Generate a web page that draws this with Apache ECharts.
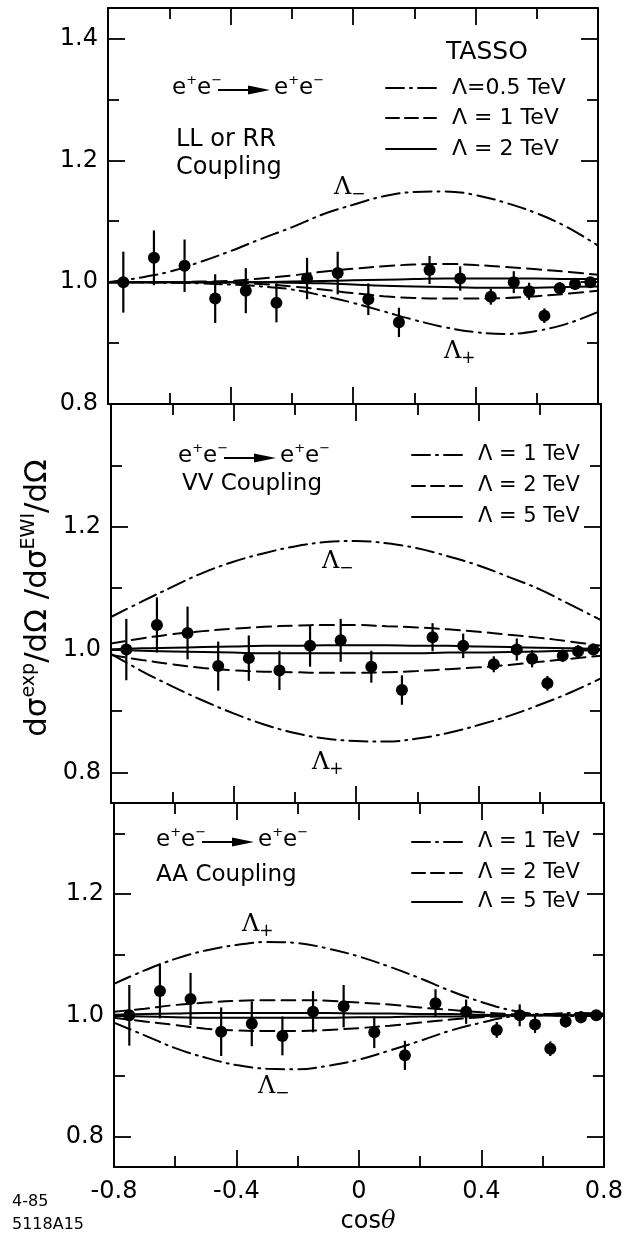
<!DOCTYPE html>
<html><head><meta charset="utf-8">
<script src="https://cdn.jsdelivr.net/npm/echarts@6/dist/echarts.min.js"></script>
<style>html,body{margin:0;padding:0;background:#fff}#c{width:626px;height:1236px}</style>
</head><body><div id="c"></div>
<script>
// ---------- data ----------
const cosTheta = [-0.75,-0.65,-0.55,-0.45,-0.35,-0.25,-0.15,-0.05,0.05,0.15,0.25,0.35,0.45,0.525,0.575,0.625,0.675,0.725,0.775];
const ratio    = [1.0,1.04,1.027,0.973,0.986,0.966,1.006,1.015,0.972,0.934,1.02,1.006,0.976,1.0,0.985,0.945,0.99,0.997,1.0];
const ratioErr = [0.05,0.045,0.043,0.04,0.037,0.032,0.034,0.035,0.026,0.024,0.023,0.02,0.013,0.018,0.014,0.012,0.01,0.01,0.008];

const curveX = [-0.8,-0.7,-0.6,-0.5,-0.4,-0.3,-0.2,-0.1,0,0.1,0.2,0.3,0.4,0.5,0.6,0.7,0.8];
// LL or RR coupling
const llMinus05 = [1.0,1.007,1.017,1.033,1.051,1.071,1.09,1.111,1.127,1.141,1.148,1.149,1.143,1.13,1.113,1.09,1.06];
const llPlus05  = [1.0,1.0,0.999,0.998,0.996,0.993,0.988,0.978,0.966,0.952,0.938,0.926,0.918,0.915,0.92,0.932,0.951];
const llMinus1  = [1.0,1.0,1.0,1.001,1.002,1.006,1.011,1.017,1.022,1.026,1.029,1.03,1.028,1.025,1.021,1.017,1.012];
const llPlus1   = [1.0,1.0,1.0,1.0,0.999,0.997,0.993,0.988,0.982,0.977,0.974,0.973,0.973,0.974,0.977,0.981,0.986];
const llMinus2  = [1.0,1.0,1.0,1.0,1.0,1.0,1.001,1.002,1.003,1.004,1.005,1.006,1.006,1.006,1.006,1.005,1.005];
const llPlus2   = [1.0,1.0,1.0,1.0,1.0,1.0,0.999,0.998,0.996,0.994,0.993,0.992,0.991,0.991,0.991,0.992,0.993];
// VV coupling
const vvMinus1 = [1.053,1.078,1.102,1.125,1.143,1.157,1.168,1.175,1.177,1.173,1.165,1.152,1.137,1.118,1.098,1.073,1.048];
const vvPlus1  = [0.993,0.965,0.94,0.917,0.896,0.878,0.864,0.855,0.851,0.85,0.855,0.864,0.877,0.892,0.91,0.93,0.953];
const vvMinus2 = [1.01,1.018,1.025,1.03,1.034,1.037,1.039,1.04,1.04,1.038,1.036,1.033,1.029,1.024,1.019,1.013,1.006];
const vvPlus2  = [0.991,0.983,0.976,0.97,0.966,0.964,0.963,0.962,0.962,0.963,0.965,0.968,0.971,0.975,0.98,0.985,0.99];
const vvMinus5 = [1.0,1.002,1.003,1.004,1.005,1.006,1.006,1.007,1.007,1.007,1.006,1.006,1.005,1.004,1.003,1.002,1.001];
const vvPlus5  = [1.0,0.998,0.997,0.996,0.995,0.994,0.994,0.994,0.994,0.994,0.994,0.995,0.995,0.996,0.997,0.998,0.999];
// AA coupling
const aaPlus1  = [1.052,1.074,1.093,1.107,1.116,1.121,1.119,1.11,1.097,1.08,1.061,1.04,1.022,1.008,1.002,1.004,1.003];
const aaMinus1 = [0.988,0.967,0.946,0.93,0.918,0.912,0.911,0.917,0.927,0.942,0.958,0.975,0.988,0.998,1.0,0.999,1.0];
const aaPlus2  = [1.006,1.011,1.017,1.021,1.024,1.025,1.025,1.024,1.021,1.018,1.013,1.009,1.005,1.002,1.001,1.002,1.002];
const aaMinus2 = [0.996,0.99,0.984,0.978,0.975,0.974,0.974,0.976,0.979,0.983,0.988,0.993,0.997,0.999,1.0,1.0,1.0];
const aaPlus5  = [1.001,1.002,1.003,1.004,1.004,1.004,1.004,1.004,1.003,1.003,1.002,1.002,1.001,1.0,1.0,1.0,1.0];
const aaMinus5 = [0.999,0.998,0.997,0.996,0.996,0.996,0.996,0.996,0.997,0.997,0.998,0.998,0.999,1.0,1.0,1.0,1.0];

// ticks
const xTickLabels = [-0.8,-0.4,0,0.4,0.8];
const xMajorTicks = [-0.4,0,0.4];
const xMinorTicks = [-0.6,-0.2,0.2,0.6];
const yMajorTicks = [0.8,1.0,1.2,1.4];
const yMinorTicks = [0.9,1.1,1.3];
const yLabelsTop = [0.8,1.0,1.2,1.4];
const yLabelsLow = [0.8,1.0,1.2];

// ---------- layout / style ----------
const FONT = 'DejaVu Sans';
const INK = '#000';
const DASHDOT = [18,6,2,6];
const DASH = [14,7];
const LW = 2;
const panels = [
  {top:8,   height:396, left:108, right:28, yMin:0.8,  yMax:1.45, yLabels:yLabelsTop, xLabels:false,
   curves:[[llMinus05,DASHDOT],[llPlus05,DASHDOT],[llMinus1,DASH],[llPlus1,DASH],[llMinus2,'solid'],[llPlus2,'solid']]},
  {top:404, height:399, left:111, right:25, yMin:0.75, yMax:1.4,  yLabels:yLabelsLow, xLabels:false,
   curves:[[vvMinus1,DASHDOT],[vvPlus1,DASHDOT],[vvMinus2,DASH],[vvPlus2,DASH],[vvMinus5,'solid'],[vvPlus5,'solid']]},
  {top:803, height:364, left:114, right:21, yMin:0.75, yMax:1.35, yLabels:yLabelsLow, xLabels:true,
   curves:[[aaPlus1,DASHDOT],[aaMinus1,DASHDOT],[aaPlus2,DASH],[aaMinus2,DASH],[aaPlus5,'solid'],[aaMinus5,'solid']]}
];

const grid=[], xAxis=[], yAxis=[], series=[];
const lineAx = {show:true, onZero:false, lineStyle:{color:INK, width:2}};
const noLine = {show:false, onZero:false};
const fmtX = v => v===0 ? '0' : (v<0?'-':'') + Math.abs(v).toFixed(1);
panels.forEach((p,i)=>{
  grid.push({top:p.top, height:p.height, left:p.left, right:p.right});
  const xb = {gridIndex:i, type:'value', min:-0.8, max:0.8, splitLine:{show:false}};
  xAxis.push(Object.assign({}, xb, {position:'bottom', axisLine:lineAx,
    axisTick:{show:true, inside:true, length:17, customValues:xMajorTicks, lineStyle:{color:INK,width:1.8}},
    axisLabel: p.xLabels ? {show:true, customValues:xTickLabels, formatter:fmtX, fontSize:24, fontFamily:FONT, color:INK, margin:13} : {show:false}}));
  xAxis.push(Object.assign({}, xb, {position:'bottom', axisLine:noLine,
    axisTick:{show:true, inside:true, length:11, customValues:xMinorTicks, lineStyle:{color:INK,width:1.8}}, axisLabel:{show:false}}));
  xAxis.push(Object.assign({}, xb, {position:'top', axisLine:lineAx,
    axisTick:{show:true, inside:true, length:17, customValues:xMajorTicks, lineStyle:{color:INK,width:1.8}}, axisLabel:{show:false}}));
  xAxis.push(Object.assign({}, xb, {position:'top', axisLine:noLine,
    axisTick:{show:true, inside:true, length:11, customValues:xMinorTicks, lineStyle:{color:INK,width:1.8}}, axisLabel:{show:false}}));
  const yb = {gridIndex:i, type:'value', min:p.yMin, max:p.yMax, splitLine:{show:false}};
  const maj = yMajorTicks.filter(v=>v>=p.yMin-1e-9 && v<p.yMax-1e-9);
  yAxis.push(Object.assign({}, yb, {position:'left', axisLine:lineAx,
    axisTick:{show:true, inside:true, length:17, customValues:maj, lineStyle:{color:INK,width:1.8}},
    axisLabel:{show:true, customValues:p.yLabels, formatter:v=>v.toFixed(1), fontSize:24, fontFamily:FONT, color:INK, margin:10}}));
  yAxis.push(Object.assign({}, yb, {position:'left', axisLine:noLine,
    axisTick:{show:true, inside:true, length:11, customValues:yMinorTicks, lineStyle:{color:INK,width:1.8}}, axisLabel:{show:false}}));
  yAxis.push(Object.assign({}, yb, {position:'right', axisLine:lineAx,
    axisTick:{show:true, inside:true, length:17, customValues:maj, lineStyle:{color:INK,width:1.8}}, axisLabel:{show:false}}));
  yAxis.push(Object.assign({}, yb, {position:'right', axisLine:noLine,
    axisTick:{show:true, inside:true, length:11, customValues:yMinorTicks, lineStyle:{color:INK,width:1.8}}, axisLabel:{show:false}}));

  p.curves.forEach(([arr,type])=>{
    series.push({type:'line', xAxisIndex:4*i, yAxisIndex:4*i, smooth:0.4, showSymbol:false, symbol:'none', silent:true, z:2,
      data: curveX.map((x,k)=>[x,arr[k]]),
      lineStyle:{color:INK, width:LW, type:type, cap:'round'}});
  });
  series.push({type:'custom', xAxisIndex:4*i, yAxisIndex:4*i, z:3, silent:true,
    data: cosTheta.map((x,k)=>[x,ratio[k],ratioErr[k]]), encode:{x:0,y:1},
    renderItem:(params,api)=>{
      const x=api.value(0), y=api.value(1), e=api.value(2);
      const a=api.coord([x,y+e]), b=api.coord([x,y-e]);
      return {type:'line', shape:{x1:a[0],y1:a[1],x2:b[0],y2:b[1]}, style:{stroke:INK, lineWidth:2.2}};
    }});
  series.push({type:'scatter', xAxisIndex:4*i, yAxisIndex:4*i, z:4, silent:true, symbolSize:12,
    itemStyle:{color:INK, opacity:1}, data: cosTheta.map((x,k)=>[x,ratio[k]])});
});

// ---------- annotations ----------
const g = [];
function txt(x,y,text,size,opts){
  g.push(Object.assign({type:'text', x:x, y:y, style:Object.assign({text:text, fontSize:size, fontFamily:FONT, fill:INK, align:'left', verticalAlign:'middle'}, opts||{})}));
}
const richEE = {p:{fontSize:13, fontFamily:FONT, fill:INK, verticalAlign:'top', lineHeight:12}};
function reaction(x,y){
  txt(x,y,'e{p|+}e{p|−}',23,{rich:richEE, lineHeight:28});
  g.push({type:'line', shape:{x1:x+46,y1:y+2,x2:x+92,y2:y+2}, style:{stroke:INK,lineWidth:1.8}});
  g.push({type:'polygon', shape:{points:[[x+76,y-2.5],[x+98,y+2],[x+76,y+6.5]]}, style:{fill:INK}});
  txt(x+102,y,'e{p|+}e{p|−}',23,{rich:richEE, lineHeight:28});
}
const richL = {L:{fontSize:24, fontFamily:'DejaVu Serif', fill:INK, lineHeight:30},
               s:{fontSize:17, fontFamily:FONT, fill:INK, verticalAlign:'bottom', lineHeight:16}};
function lamLabel(x,y,sign){ txt(x,y,'{L|Λ}{s|'+sign+'}',24,{rich:richL}); }
function legendItem(x1,x2,y,dash,label,size){
  g.push({type:'line', shape:{x1:x1,y1:y,x2:x2,y2:y}, style:{stroke:INK,lineWidth:2,lineDash:dash==='solid'?null:dash,lineCap:'round'}});
  txt(x2+16,y,label,size);
}
// panel 1
reaction(172,88);
txt(176,140,'LL or RR',24);
txt(176,168,'Coupling',24);
txt(446,52,'TASSO',25);
legendItem(386,436,88,DASHDOT,'Λ=0.5 TeV',22);
legendItem(386,436,118,[13,6],'Λ = 1 TeV',22);
legendItem(386,436,149,'solid','Λ = 2 TeV',22);
lamLabel(334,188,'−');
lamLabel(444,352,'+');
// panel 2
reaction(178,456);
txt(182,484,'VV Coupling',23);
legendItem(412,462,455,DASHDOT,'Λ = 1 TeV',21);
legendItem(412,462,486,[13,6],'Λ = 2 TeV',21);
legendItem(412,462,517,'solid','Λ = 5 TeV',21);
lamLabel(322,562,'−');
lamLabel(312,763,'+');
// panel 3
reaction(156,840);
txt(156,875,'AA Coupling',23);
legendItem(412,462,842,DASHDOT,'Λ = 1 TeV',21);
legendItem(412,462,873,[13,6],'Λ = 2 TeV',21);
legendItem(412,462,902,'solid','Λ = 5 TeV',21);
lamLabel(242,925,'+');
lamLabel(258,1087,'−');
// axis titles and footnotes
g.push({type:'text', x:38, y:598, rotation:Math.PI/2, style:{
  text:'dσ{s|exp}/dΩ /dσ{s|EWI}/dΩ', fontSize:31, fontFamily:FONT, fill:INK, align:'center', verticalAlign:'middle', lineHeight:36,
  rich:{s:{fontSize:19, fontFamily:FONT, fill:INK, verticalAlign:'top', lineHeight:19}}}});
txt(368,1222,'cos{i|θ}',24,{align:'center', rich:{i:{fontSize:24, fontFamily:'DejaVu Serif', fontStyle:'italic', fill:INK}}});
txt(12,1202,'4-85',16);
txt(12,1225,'5118A15',16);

const chart = echarts.init(document.getElementById('c'), null, {renderer:'canvas'});
chart.setOption({backgroundColor:'#fff', animation:false, grid, xAxis, yAxis, series, graphic:g});
</script></body></html>
